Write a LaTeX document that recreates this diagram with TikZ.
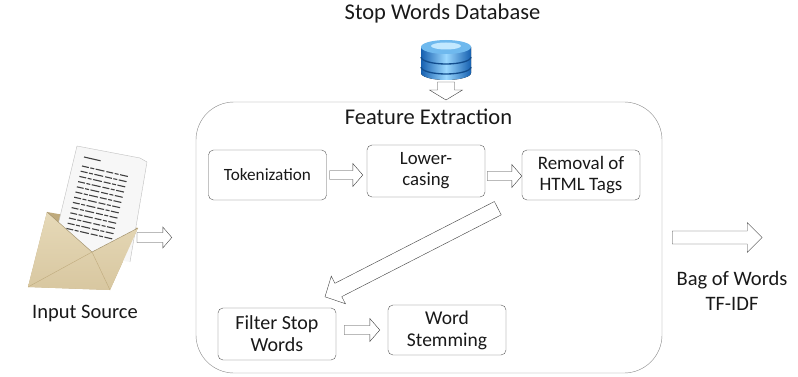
\documentclass[tikz,border=0pt]{standalone}
\usepackage{fontspec}
\setmainfont{Carlito}
\usetikzlibrary{calc}

\definecolor{boxgray}{HTML}{595959}
\definecolor{framegray}{HTML}{8A8A8A}
\definecolor{arrowgray}{HTML}{404040}
\definecolor{dbdark}{HTML}{1660B0}
\definecolor{dblight}{HTML}{9AD8FF}
\definecolor{dbtop}{HTML}{6FB9EE}
\definecolor{tan}{HTML}{D8C7A0}
\definecolor{tanlight}{HTML}{E6D9B8}
\definecolor{tandark}{HTML}{BFAA7C}

\tikzset{
  stage/.style={draw=boxgray, rounded corners=5pt, align=center,
    minimum width=118pt, minimum height=50pt, inner sep=2pt, text=black!90},
  % hollow block arrow: shaft half width, head half width, head length
  fat/.style n args={3}{draw=arrowgray, fill=white, line join=miter,
    to path={
      ($(\tikztostart)!#1!90:(\tikztotarget)$)
      -- ($(\tikztotarget)!#3!(\tikztostart)!#1!-90:(\tikztostart)$)
      -- ($(\tikztotarget)!#3!(\tikztostart)!#2!-90:(\tikztostart)$)
      -- (\tikztotarget)
      -- ($(\tikztotarget)!#3!(\tikztostart)!#2!90:(\tikztostart)$)
      -- ($(\tikztotarget)!#3!(\tikztostart)!#1!90:(\tikztostart)$)
      -- ($(\tikztostart)!#1!-90:(\tikztotarget)$)
      -- cycle}},
  label/.style={font=\fontsize{20.5}{25}\selectfont, align=center, text=black!90},
  biglabel/.style={label, font=\fontsize{22.5}{27}\selectfont},
}

\begin{document}
\begin{tikzpicture}[x=1pt, y=-1pt]
  \useasboundingbox (0,0) rectangle (798,377);

  % feature extraction frame and its stages
  \node[draw=framegray, rounded corners=38pt, minimum width=466pt,
    minimum height=271pt] (fe) at (429,237.5) {};
  \node[biglabel] (fetitle) at (428.5,117) {Feature Extraction};

  \node[stage, font=\fontsize{17.2}{20}\selectfont] (tok) at (267.5,175) {Tokenization};
  \node[stage, minimum height=52pt, font=\fontsize{18.8}{21}\selectfont] (low) at (426,171) {Lower-\\casing};
  \node[stage, font=\fontsize{19}{21}\selectfont] (html) at (581,175) {Removal of\\HTML Tags};
  \node[stage, minimum height=52pt, font=\fontsize{20}{22}\selectfont] (filt) at (277,334) {Filter Stop\\Words};
  \node[stage, font=\fontsize{19.5}{22}\selectfont] (stem) at (447,330) {Word\\Stemming};

  \draw[fat={4.5pt}{11.5pt}{10pt}] ([xshift=3pt]tok.east) to ([xshift=-4pt]low.west |- tok.east);
  \draw[fat={4.5pt}{11.5pt}{10pt}] ([shift={(2,5)}]low.east) to ([yshift=-1pt]html.west);
  \coordinate (dgA) at ([shift={(-24,8)}]html.south west);
  \coordinate (dgB) at ([shift={(48,-11)}]filt.north);
  \draw[fat={7.5pt}{15.5pt}{15pt}] (dgA) to (dgB);
  \draw[fat={4.5pt}{11.5pt}{10pt}] ([xshift=8pt]filt.east |- stem.east) to ([xshift=-8pt]stem.west);

  % stop words database
  \node[biglabel] (dbtitle) at (442.5,14) {Stop Words Database};
  \fill[left color=dbdark, right color=dbdark, middle color=dblight]
    (421,47) -- (421,73) arc[start angle=180, end angle=0, x radius=25, y radius=7]
    -- (471,47) -- cycle;
  \foreach \yy in {57,67}
    \draw[dbdark!80!black, line width=1.3pt]
      (421,\yy) arc[start angle=180, end angle=0, x radius=25, y radius=7];
  \fill[dbtop] (446,47) ellipse[x radius=25, y radius=7];
  \fill[dblight!60!white] (446,46) ellipse[x radius=15, y radius=3.5];
  \coordinate (db) at (446,82);
  \coordinate (dbtip) at (446,100);
  \draw[fat={8.5pt}{16.5pt}{10pt}] (db) to (dbtip);

  % input source: letter in an envelope
  \fill[tandark] (47,212) -- (138,228) -- (110,290) -- (28,287) -- cycle;
  \fill[black!3] (77,146) -- (140,158) -- (147,162) -- (130,262) -- (52,250) -- cycle;
  \draw[black!25] (77,146) -- (140,158) -- (147,162) -- (130,262)
    (52,250) -- (77,146);
  \foreach \k in {0,...,12}
    \draw[black!75, line width=1.1pt, dash pattern=on 7pt off 1.5pt on 4pt off 1.5pt on 9pt off 2pt]
      ($(82,166)+\k*(-1.3,5.2)$) -- ++(0.975*47,0.223*47);
  \draw[black!75, line width=1.1pt] (84,157) -- ++(0.975*17,0.223*17);
  \draw[black!75, line width=1.1pt] (64,238) -- ++(0.975*10,0.223*10);
  \shade[top color=tanlight, bottom color=tan]
    (47,212) -- (92,252) -- (138,228) -- (110,290) -- (28,287) -- cycle;
  \draw[tandark!80!black, line width=0.4pt] (47,212) -- (92,252) -- (138,228);
  \draw[tandark, line width=0.4pt] (28,287) -- (92,252) -- (110,290);
  \node[label] (srctitle) at (85,313) {Input Source};
  \coordinate (src) at (137,237.5);
  \draw[fat={5pt}{10.5pt}{9pt}] (src) to ([xshift=-24pt]fe.west);

  % output
  \coordinate (out) at ([xshift=100pt]fe.east);
  \draw[fat={6.5pt}{15pt}{15pt}] ([xshift=10pt]fe.east) to (out);
  \node[label] (bow) at (732,290.5) {Bag of Words\\TF-IDF};
\end{tikzpicture}
\end{document}
